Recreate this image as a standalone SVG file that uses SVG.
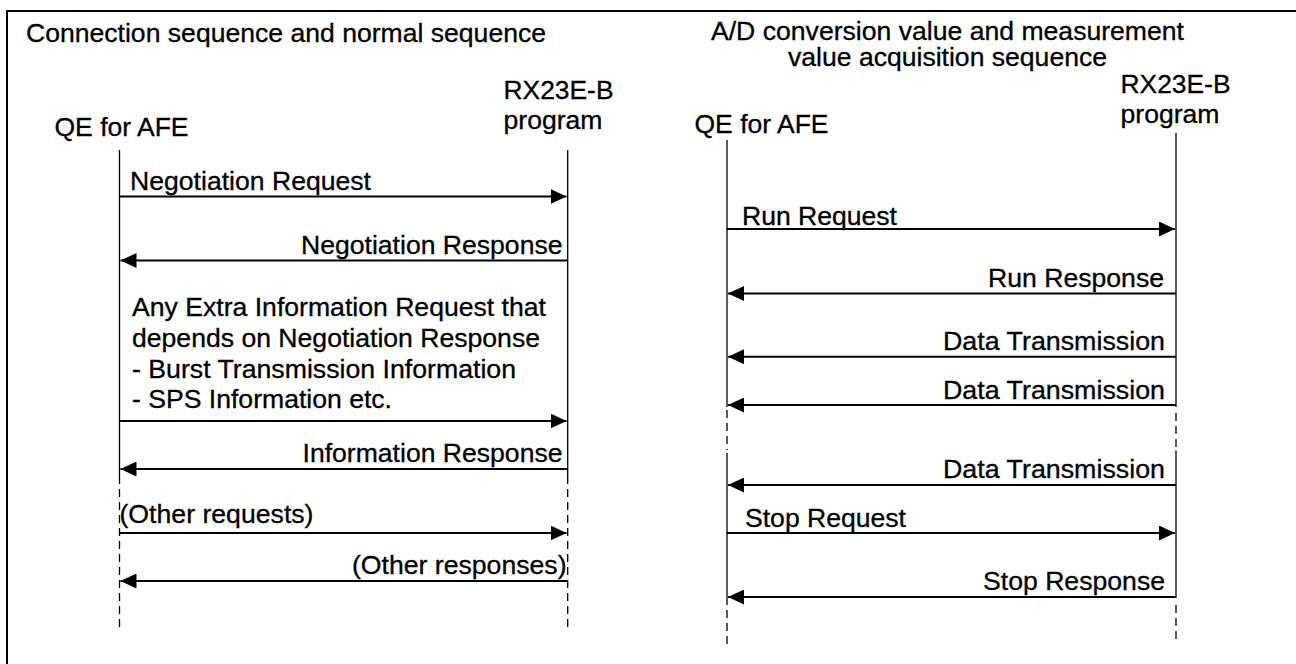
<svg xmlns="http://www.w3.org/2000/svg" width="1296" height="664" viewBox="0 0 1296 664">
<style>
text{font-family:"Liberation Sans",Arial,Helvetica,sans-serif;font-size:25px;fill:#000;stroke:#000;stroke-width:0.3}
.life{stroke:#000;stroke-width:1.3;fill:none}
.dash{stroke:#000;stroke-width:1.3;fill:none;stroke-dasharray:8,5}
.msg{stroke:#000;stroke-width:2;fill:none;marker-end:url(#ah)}
.frame{stroke:#000;stroke-width:2;fill:none}
</style>
<defs>
<marker id="ah" viewBox="0 0 16 15" refX="16" refY="7.5" markerWidth="16" markerHeight="15" markerUnits="userSpaceOnUse" orient="auto">
<path d="M0,0 L16,7.5 L0,15 Z" fill="#000"/>
</marker>
</defs>
<rect width="1296" height="664" fill="#fff"/>
<g id="frame">
<path class="frame" d="M7,664 V11 H1296"/>
</g>
<g id="titles">
<text x="26" y="42" textLength="520" lengthAdjust="spacingAndGlyphs">Connection sequence and normal sequence</text>
<text x="711" y="40" textLength="473" lengthAdjust="spacingAndGlyphs">A/D conversion value and measurement</text>
<text x="788" y="65.5" textLength="319" lengthAdjust="spacingAndGlyphs">value acquisition sequence</text>
</g>
<g id="lifeline-qe-left">
<text x="54.5" y="136" textLength="134" lengthAdjust="spacingAndGlyphs">QE for AFE</text>
<line class="life" x1="119.5" y1="150" x2="119.5" y2="476"/>
<line class="dash" x1="119.5" y1="476" x2="119.5" y2="628"/>
</g>
<g id="lifeline-rx-left">
<text x="503.5" y="99" textLength="110" lengthAdjust="spacingAndGlyphs">RX23E-B</text>
<text x="503.5" y="128.5" textLength="99" lengthAdjust="spacingAndGlyphs">program</text>
<line class="life" x1="567.7" y1="150" x2="567.7" y2="476"/>
<line class="dash" x1="567.7" y1="476" x2="567.7" y2="628"/>
</g>
<g id="lifeline-qe-right">
<text x="694.5" y="133.3" textLength="134" lengthAdjust="spacingAndGlyphs">QE for AFE</text>
<line class="life" x1="727" y1="140" x2="727" y2="407"/>
<line class="dash" x1="727" y1="410" x2="727" y2="450"/>
<line class="life" x1="727" y1="453" x2="727" y2="605"/>
<line class="dash" x1="727" y1="610" x2="727" y2="648"/>
</g>
<g id="lifeline-rx-right">
<text x="1120.5" y="92.7" textLength="110" lengthAdjust="spacingAndGlyphs">RX23E-B</text>
<text x="1120.5" y="122.5" textLength="99" lengthAdjust="spacingAndGlyphs">program</text>
<line class="life" x1="1176" y1="133" x2="1176" y2="407"/>
<line class="dash" x1="1176" y1="413" x2="1176" y2="448"/>
<line class="life" x1="1176" y1="450.5" x2="1176" y2="598"/>
<line class="dash" x1="1176" y1="605" x2="1176" y2="641"/>
</g>
<g id="connectors">
<line class="msg" x1="119.5" y1="196.5" x2="566.5" y2="196.5"/>
<line class="msg" x1="567.7" y1="260.5" x2="120.5" y2="260.5"/>
<line class="msg" x1="119.5" y1="421" x2="566.5" y2="421"/>
<line class="msg" x1="567.7" y1="469" x2="120.5" y2="469"/>
<line class="msg" x1="119.5" y1="533" x2="566.5" y2="533"/>
<line class="msg" x1="567.7" y1="581" x2="120.5" y2="581"/>
<line class="msg" x1="727" y1="229" x2="1175" y2="229"/>
<line class="msg" x1="1176" y1="293.5" x2="728" y2="293.5"/>
<line class="msg" x1="1176" y1="356.7" x2="728" y2="356.7"/>
<line class="msg" x1="1176" y1="405" x2="728" y2="405"/>
<line class="msg" x1="1176" y1="485" x2="728" y2="485"/>
<line class="msg" x1="727" y1="533" x2="1175" y2="533"/>
<line class="msg" x1="1176" y1="597" x2="728" y2="597"/>
</g>
<g id="labels">
<text x="130" y="189.5" textLength="241" lengthAdjust="spacingAndGlyphs">Negotiation Request</text>
<text x="301" y="254" textLength="261.5" lengthAdjust="spacingAndGlyphs">Negotiation Response</text>
<text x="132" y="316" textLength="414" lengthAdjust="spacingAndGlyphs">Any Extra Information Request that</text>
<text x="132" y="346.7" textLength="408" lengthAdjust="spacingAndGlyphs">depends on Negotiation Response</text>
<text x="132" y="377.6" textLength="384" lengthAdjust="spacingAndGlyphs">- Burst Transmission Information</text>
<text x="132" y="408" textLength="260" lengthAdjust="spacingAndGlyphs">- SPS Information etc.</text>
<text x="302.5" y="462" textLength="260" lengthAdjust="spacingAndGlyphs">Information Response</text>
<text x="119.5" y="523" textLength="194" lengthAdjust="spacingAndGlyphs">(Other requests)</text>
<text x="352" y="573.5" textLength="214.5" lengthAdjust="spacingAndGlyphs">(Other responses)</text>
<text x="742" y="224.5" textLength="155" lengthAdjust="spacingAndGlyphs">Run Request</text>
<text x="988" y="287" textLength="176" lengthAdjust="spacingAndGlyphs">Run Response</text>
<text x="943" y="350" textLength="222" lengthAdjust="spacingAndGlyphs">Data Transmission</text>
<text x="943" y="398.5" textLength="222" lengthAdjust="spacingAndGlyphs">Data Transmission</text>
<text x="943" y="478" textLength="222" lengthAdjust="spacingAndGlyphs">Data Transmission</text>
<text x="745" y="527" textLength="161" lengthAdjust="spacingAndGlyphs">Stop Request</text>
<text x="983" y="589.5" textLength="182" lengthAdjust="spacingAndGlyphs">Stop Response</text>
</g>
</svg>
